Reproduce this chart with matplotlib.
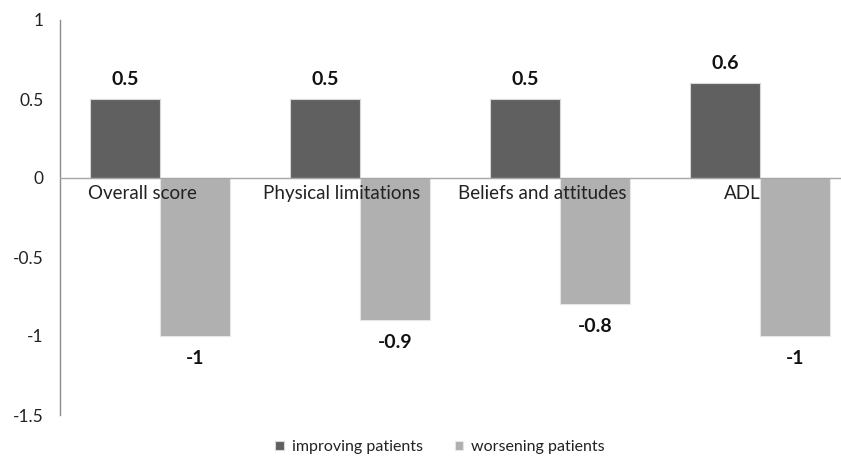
import matplotlib
matplotlib.use("Agg")
import matplotlib.pyplot as plt
import numpy as np

categories = ["Overall score", "Physical limitations", "Beliefs and attitudes", "ADL"]
improving = [0.5, 0.5, 0.5, 0.6]
worsening = [-1, -0.9, -0.8, -1]
value_labels_improving = ["0.5", "0.5", "0.5", "0.6"]
value_labels_worsening = ["-1", "-0.9", "-0.8", "-1"]
yticks = [-1.5, -1, -0.5, 0, 0.5, 1]
ytick_labels = ["-1.5", "-1", "-0.5", "0", "0.5", "1"]
series_names = ["improving patients", "worsening patients"]

plt.rcParams['font.family'] = ['Lato', 'DejaVu Sans']

W, H = 841, 469
fig = plt.figure(figsize=(W / 100, H / 100), dpi=100)
left_px, right_px = 60, 841
top_px, bot_px = 20, 415
ax = fig.add_axes([left_px / W, 1 - bot_px / H, (right_px - left_px) / W, (bot_px - top_px) / H])

dark = '#606060'
light = '#b0b0b0'
x = np.arange(len(categories))
bw = 0.35
ax.bar(x - bw / 2, improving, bw, color=dark, edgecolor='#d8d8d8', linewidth=0.8, label=series_names[0], zorder=2)
ax.bar(x + bw / 2, worsening, bw, color=light, edgecolor='#e6e6e6', linewidth=0.8, label=series_names[1], zorder=2)

ax.set_ylim(-1.5, 1)
ax.set_xlim(-0.5, (right_px - 160) / 200)
ax.set_yticks(yticks)
ax.set_yticklabels(ytick_labels, fontsize=12.5, color='#222222')
ax.tick_params(axis='y', length=0, pad=12)
ax.set_xticks([])
for s in ['top', 'right', 'bottom']:
    ax.spines[s].set_visible(False)
ax.spines['left'].set_color('#8c8c8c')
ax.spines['left'].set_linewidth(1)
ax.axhline(0, color='#a6a6a6', linewidth=1, zorder=3)

for i, cat in enumerate(categories):
    ax.text(i - 0.09, -0.045, cat, ha='center', va='top', fontsize=13.5, color='#222222', zorder=4)
    ax.annotate(value_labels_improving[i], (i - bw / 2, improving[i]), xytext=(0, 8),
                textcoords='offset points', ha='center', va='bottom', fontsize=14,
                fontweight='bold', color='#111111')
    ax.annotate(value_labels_worsening[i], (i + bw / 2, worsening[i]), xytext=(0, -10),
                textcoords='offset points', ha='center', va='top', fontsize=14,
                fontweight='bold', color='#111111')

leg = fig.legend(loc='center', bbox_to_anchor=(440 / W, 1 - 447 / H), ncol=2, frameon=False,
                 fontsize=11.5, handlelength=0.55, handleheight=0.55, handletextpad=0.5,
                 columnspacing=2.0)
for t in leg.get_texts():
    t.set_color('#222222')

fig.savefig('out.png', dpi=100)
